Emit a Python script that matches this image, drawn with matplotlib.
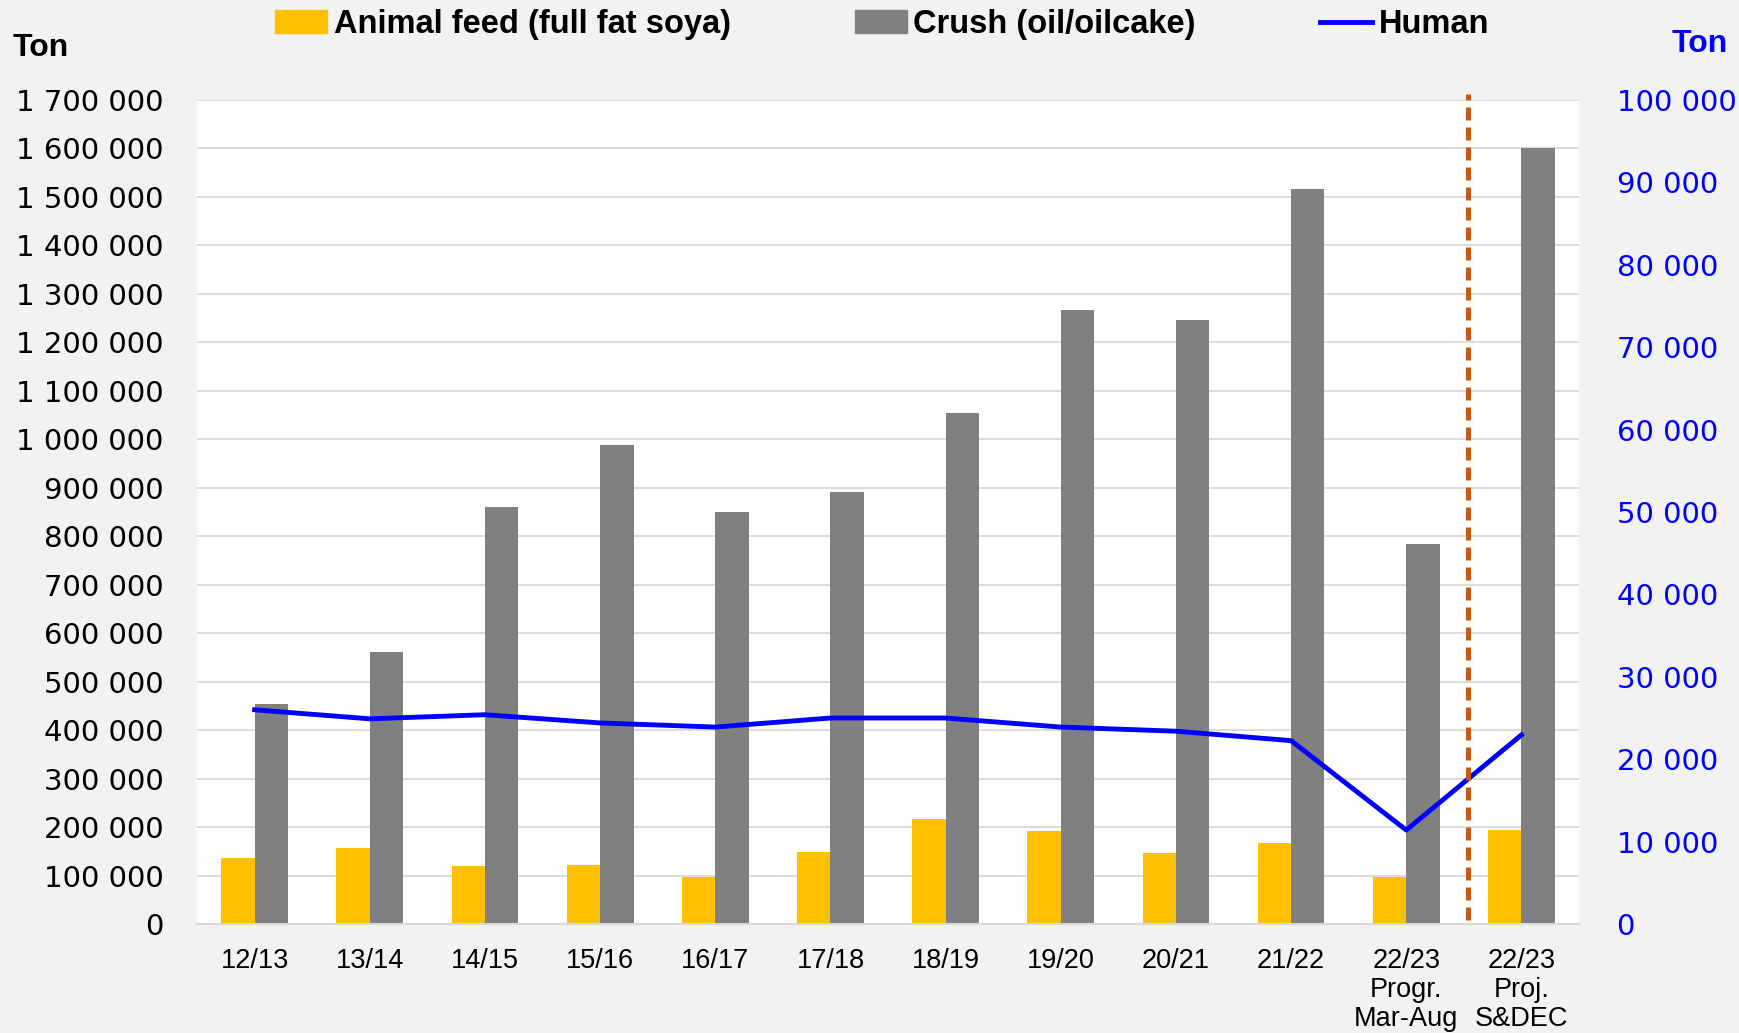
import matplotlib
matplotlib.use("Agg")
import matplotlib.pyplot as plt
from matplotlib.patches import Patch
from matplotlib.lines import Line2D
import numpy as np

# data
seasons = ['12/13', '13/14', '14/15', '15/16', '16/17', '17/18', '18/19',
           '19/20', '20/21', '21/22', '22/23\nProgr.\nMar-Aug', '22/23\nProj.\nS&DEC']
animal_feed = [137000, 156000, 119000, 121000, 98000, 149000, 217000,
               192000, 146000, 167000, 98000, 194000]
crush = [453000, 561000, 860000, 988000, 851000, 892000, 1055000,
         1267000, 1247000, 1517000, 785000, 1600000]
human = [26000, 24900, 25400, 24400, 23900, 25000, 25000,
         23900, 23400, 22250, 11400, 22950]

YELLOW = '#FFC000'
GREY = '#808080'
BLUE = '#0000FF'
ORANGE = '#C55A11'
narrow = ['Liberation Sans Narrow', 'Liberation Sans', 'DejaVu Sans']

def fmt(v):
    return f"{v:,.0f}".replace(',', ' ')

fig = plt.figure(figsize=(17.39, 10.33), dpi=100)
fig.patch.set_facecolor('#F2F2F2')
ax = fig.add_axes([0.1133, 0.1055, 0.7947, 0.7977])
ax.set_facecolor('white')

x = np.arange(len(seasons))
w = 0.29
ax.bar(x - w / 2, animal_feed, w, color=YELLOW, zorder=2)
ax.bar(x + w / 2, crush, w, color=GREY, zorder=2)

ax.set_xlim(-0.5, len(seasons) - 0.5)
ax.set_ylim(0, 1700000)
yt = np.arange(0, 1700001, 100000)
ax.set_yticks(yt)
ax.set_yticklabels([fmt(v) for v in yt], fontsize=21, family='DejaVu Sans')
ax.grid(axis='y', color='#D9D9D9', linewidth=1.3)
ax.set_axisbelow(True)
ax.set_xticks(x)
ax.set_xticklabels(seasons, fontsize=19.5, family=narrow, linespacing=1.17)
ax.tick_params(axis='x', length=0, pad=17)
ax.tick_params(axis='y', length=0, pad=24)
for s in ['top', 'right', 'left']:
    ax.spines[s].set_visible(False)
ax.spines['bottom'].set_color('#D9D9D9')
ax.spines['bottom'].set_linewidth(1.5)

ax2 = ax.twinx()
ax2.plot(x, human, color=BLUE, linewidth=3.5, zorder=3)
ax2.set_ylim(0, 100000)
yt2 = np.arange(0, 100001, 10000)
ax2.set_yticks(yt2)
ax2.set_yticklabels([fmt(v) for v in yt2], fontsize=21, family='DejaVu Sans', color=BLUE)
ax2.tick_params(axis='y', length=0, pad=27)
for s in ax2.spines.values():
    s.set_visible(False)

# divider between progress and projection
ax2.axvline(10.54, ymin=0.005, ymax=1.007, color=ORANGE, linewidth=3.6,
            dashes=(2.6, 1.4), clip_on=False, zorder=4)

handles = [Patch(color=YELLOW), Patch(color=GREY), Line2D([], [], color=BLUE, linewidth=3.5)]
labels = ['Animal feed (full fat soya)', 'Crush (oil/oilcake)', 'Human']
fig.legend(handles, labels, loc='center left', bbox_to_anchor=(0.158, 0.976),
           ncol=3, frameon=False, borderpad=0, borderaxespad=0,
           handlelength=1.6, handletextpad=0.2, columnspacing=3.8,
           prop={'family': narrow, 'weight': 'bold', 'size': 23.5})

fig.text(13 / 1739, 1 - 48 / 1033, 'Ton', fontsize=23, weight='bold',
         family=narrow, va='center', ha='left')
fig.text(1672 / 1739, 1 - 44 / 1033, 'Ton', fontsize=23, weight='bold',
         family=narrow, va='center', ha='left', color=BLUE)

fig.savefig('out.png', dpi=100, facecolor=fig.get_facecolor())
